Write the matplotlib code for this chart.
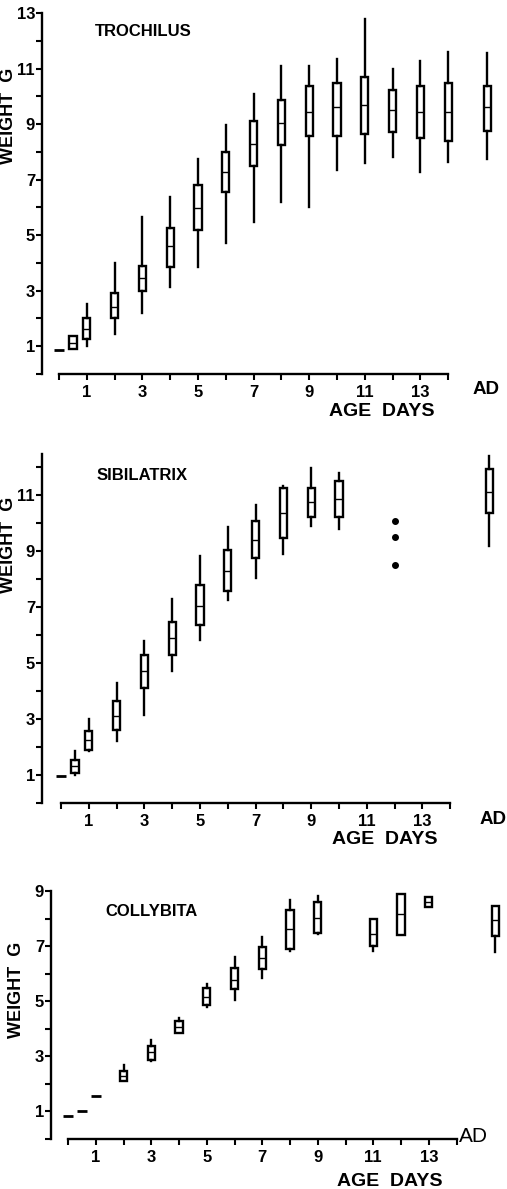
import matplotlib
matplotlib.use('Agg')
import matplotlib.pyplot as plt

plt.rcParams['font.family'] = ['Liberation Sans', 'DejaVu Sans']
plt.rcParams['font.weight'] = 'bold'

AD_POS = 15.4

# nestling weights (g) by age; boxes: range, quartiles, median
troch_day = [0.5, 1, 2, 3, 4, 5, 6, 7, 8, 9, 10, 11, 12, 13, 14, AD_POS]
troch_lo = [0.90, 1.00, 1.45, 2.20, 3.14, 3.87, 4.73, 5.46, 6.18, 6.03, 7.33, 7.60, 7.80, 7.26, 7.64, 7.73]
troch_q1 = [0.90, 1.27, 2.03, 3.00, 3.87, 5.20, 6.54, 7.48, 8.24, 8.56, 8.56, 8.63, 8.70, 8.50, 8.38, 8.74]
troch_med = [1.10, 1.63, 2.42, 3.47, 4.62, 5.96, 7.26, 8.30, 9.03, 9.43, 9.60, 9.70, 9.50, 9.42, 9.42, 9.60]
troch_q3 = [1.38, 2.00, 2.90, 3.90, 5.24, 6.79, 7.98, 9.10, 9.86, 10.36, 10.47, 10.70, 10.22, 10.36, 10.47, 10.36]
troch_hi = [1.38, 2.53, 4.00, 5.64, 6.36, 7.73, 8.96, 10.08, 11.09, 11.09, 11.34, 12.78, 10.97, 11.27, 11.60, 11.56]
troch_single_day = [0]
troch_single_w = [0.87]

sibil_day = [0.5, 1, 2, 3, 4, 5, 6, 7, 8, 9, 10, AD_POS]
sibil_lo = [1.00, 1.86, 2.20, 3.14, 4.71, 5.82, 7.25, 8.04, 8.89, 9.89, 9.79, 9.18]
sibil_q1 = [1.07, 1.89, 2.60, 4.10, 5.29, 6.36, 7.57, 8.75, 9.46, 10.21, 10.21, 10.36]
sibil_med = [1.32, 2.25, 3.10, 4.71, 5.90, 7.04, 8.29, 9.39, 10.36, 10.75, 10.86, 11.10]
sibil_q3 = [1.54, 2.57, 3.64, 5.29, 6.46, 7.79, 9.04, 10.07, 11.25, 11.25, 11.50, 11.93]
sibil_hi = [1.86, 3.00, 4.29, 5.80, 7.29, 8.82, 9.86, 10.64, 11.32, 11.96, 11.79, 12.39]
sibil_single_day = [0]
sibil_single_w = [0.95]
sibil_dot_day = [12, 12, 12]
sibil_dot_w = [10.07, 9.50, 8.50]

colly_day = [2, 3, 4, 5, 6, 7, 8, 9, 11, 12, 13, AD_POS]
colly_lo = [2.12, 2.84, 3.85, 4.80, 5.05, 5.85, 6.83, 7.44, 6.83, 7.41, 8.42, 6.79]
colly_q1 = [2.12, 2.88, 3.85, 4.87, 5.45, 6.17, 6.90, 7.48, 7.00, 7.41, 8.42, 7.37]
colly_med = [2.30, 3.17, 4.07, 5.16, 5.78, 6.57, 7.62, 8.02, 7.44, 8.17, 8.60, 7.95]
colly_q3 = [2.48, 3.38, 4.29, 5.49, 6.21, 6.97, 8.31, 8.60, 7.99, 8.89, 8.78, 8.46]
colly_hi = [2.70, 3.60, 4.40, 5.63, 6.60, 7.33, 8.67, 8.82, 7.99, 8.89, 8.78, 8.46]
colly_single_day = [0, 0.5, 1]
colly_single_w = [0.85, 1.00, 1.55]

day_ticks = [1, 3, 5, 7, 9, 11, 13]
day_labels = ['1', '3', '5', '7', '9', '11', '13']

W, H = 507, 1189
fig = plt.figure(figsize=(W / 100, H / 100), dpi=100)


def px(x, y):
    return x / W, 1 - y / H


def add_panel(left, day0, xs, base, ys, ytop):
    xmin = -(day0 - left) / xs
    xmax = 16.0
    ax = fig.add_axes([left / W, (H - base) / H, (xmax - xmin) * xs / W, ytop * ys / H])
    ax.set_xlim(xmin, xmax)
    ax.set_ylim(0, ytop)
    for s in ['top', 'right']:
        ax.spines[s].set_visible(False)
    ax.spines['left'].set_bounds(0, ytop)
    ax.spines['bottom'].set_bounds(0, 14)
    ax.spines['left'].set_linewidth(1.7)
    ax.spines['bottom'].set_linewidth(1.7)
    top = int(ytop)
    ax.set_yticks(list(range(1, top + 1, 2)))
    ax.set_yticks(list(range(0, top + 1, 2)), minor=True)
    ax.set_xticks(day_ticks)
    ax.set_xticklabels(day_labels)
    ax.set_xticks(list(range(0, 15, 2)), minor=True)
    ax.tick_params(which='both', direction='out', length=4, width=1.5, color='black')
    ax.tick_params(axis='y', pad=1, labelsize=12)
    ax.tick_params(axis='x', pad=4, labelsize=12)
    return ax


def draw_boxes(ax, days, lo, q1, med, q3, hi):
    stats = [dict(whislo=a, q1=b, med=c, q3=d, whishi=e, fliers=[])
             for a, b, c, d, e in zip(lo, q1, med, q3, hi)]
    ax.bxp(stats, positions=days, widths=0.26, showcaps=False, showfliers=False,
           patch_artist=True, manage_ticks=False,
           boxprops=dict(facecolor='white', edgecolor='black', linewidth=1.7),
           whiskerprops=dict(color='black', linewidth=1.7),
           medianprops=dict(color='black', linewidth=1.0))


def dashes(ax, days, w):
    ax.plot(days, w, linestyle='none', marker='_', markersize=7, mew=2, color='black')


# Trochilus
ax1 = add_panel(42, 59, 27.8, 374, 27.77, 13)
draw_boxes(ax1, troch_day, troch_lo, troch_q1, troch_med, troch_q3, troch_hi)
dashes(ax1, troch_single_day, troch_single_w)
fig.text(*px(95, 32), 'TROCHILUS', fontsize=12, va='center', ha='left')
fig.text(*px(9, 116), 'WEIGHT  G', rotation=90, fontsize=13, ha='center', va='center')
fig.text(*px(382, 411), 'AGE  DAYS', fontsize=14, ha='center', va='center')
fig.text(*px(486, 390), 'AD', fontsize=13.5, ha='center', va='center')

# Sibilatrix
ax2 = add_panel(42, 61, 27.8, 803, 28.0, 12.45)
draw_boxes(ax2, sibil_day, sibil_lo, sibil_q1, sibil_med, sibil_q3, sibil_hi)
dashes(ax2, sibil_single_day, sibil_single_w)
ax2.plot(sibil_dot_day, sibil_dot_w, linestyle='none', marker='o', markersize=4, color='black')
fig.text(*px(97, 476), 'SIBILATRIX', fontsize=12, va='center', ha='left')
fig.text(*px(9, 545), 'WEIGHT  G', rotation=90, fontsize=13, ha='center', va='center')
fig.text(*px(385, 840), 'AGE  DAYS', fontsize=14, ha='center', va='center')
fig.text(*px(493, 819), 'AD', fontsize=13.5, ha='center', va='center')

# Collybita
ax3 = add_panel(51, 68, 27.75, 1139, 27.55, 9)
draw_boxes(ax3, colly_day, colly_lo, colly_q1, colly_med, colly_q3, colly_hi)
dashes(ax3, colly_single_day, colly_single_w)
fig.text(*px(105, 912), 'COLLYBITA', fontsize=12, va='center', ha='left')
fig.text(*px(17, 990), 'WEIGHT  G', rotation=90, fontsize=13, ha='center', va='center')
fig.text(*px(390, 1181), 'AGE  DAYS', fontsize=14, ha='center', va='center')
fig.text(*px(473, 1136), 'AD', fontsize=15, fontweight='normal', ha='center', va='center')

fig.savefig('out.png', dpi=100)
